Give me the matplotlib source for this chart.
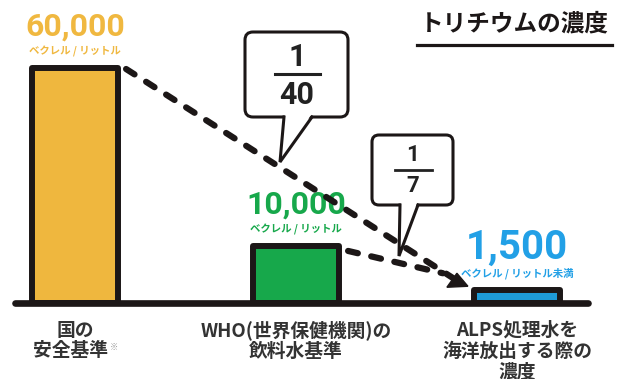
import numpy as np
import matplotlib
matplotlib.use("Agg")
import matplotlib.pyplot as plt
from matplotlib.patches import FancyBboxPatch, Polygon

# データ（ベクレル/リットル）
categories = ["国の\n安全基準※", "WHO(世界保健機関)の\n飲料水基準", "ALPS処理水を\n海洋放出する際の\n濃度"]
values = [60000, 10000, 1500]
value_labels = ["60,000", "10,000", "1,500"]
unit_labels = ["ベクレル / リットル", "ベクレル / リットル", "ベクレル / リットル未満"]
ratio_labels = [("1", "40"), ("1", "7")]
title = "トリチウムの濃度"

bar_colors = ["#EFB73E", "#17A84B", "#1E9BD7"]
text_colors = ["#F0B840", "#17A84B", "#22A0E6"]
black = "#1c1717"
jp = ["Noto Sans CJK JP", "DejaVu Sans"]
num = ["Roboto", "DejaVu Sans"]

plt.rcParams["font.family"] = jp

fig = plt.figure(figsize=(6.18, 3.79), dpi=100)
W, H = 618, 379

# 棒グラフ用の軸（縦軸はべき乗スケール）
p = 0.79
def fwd(v):
    return np.power(np.clip(v, 0, None), p)
def inv(v):
    return np.power(np.clip(v, 0, None), 1 / p)

base_px = 303
ax = fig.add_axes([15 / W, (H - base_px) / H, 573 / W, base_px / H])
ax.set_yscale("function", functions=(fwd, inv))
ax.set_xlim(-60 / 221, 513 / 221)
ymax = inv(fwd(values[0]) * base_px / 235)
ax.set_ylim(0, ymax)
ax.axis("off")

x = np.arange(len(values))
bw = 0.39
ax.bar(x, values, width=bw, color=bar_colors, edgecolor=black,
       linewidth=4.3, joinstyle="round", zorder=2)
ax.plot(ax.get_xlim(), [0, 0], color=black, lw=4.8, solid_capstyle="round",
        clip_on=False, zorder=3)

# 数値ラベル
for i in range(len(values)):
    fs = 29 if i == 2 else 23
    ax.annotate(value_labels[i], (x[i], values[i]), xytext=(0, 23), textcoords="offset points",
                ha="center", va="baseline", fontsize=fs, fontweight="bold",
                family=num, color=text_colors[i])
    ax.annotate(unit_labels[i], (x[i], values[i]), xytext=(0, 12.2), textcoords="offset points",
                ha="center", va="center", fontsize=7.5, fontweight="bold",
                color=text_colors[i])

# 注釈用のピクセル座標の軸
ov = fig.add_axes([0, 0, 1, 1], zorder=5)
ov.set_xlim(0, W)
ov.set_ylim(H, 0)
ov.axis("off")

def to_ov(pt):
    return ov.transData.inverted().transform(ax.transData.transform(pt))

# 破線
c1 = to_ov((x[0] + bw / 2, values[0]))
c2 = to_ov((x[1] + bw / 2, values[1]))
c3 = to_ov((x[2] - bw / 2, values[2]))
dash = dict(color=black, lw=4.5, dashes=(1.6, 2.2), dash_capstyle="round", zorder=1)
ov.plot([c1[0] + 8, c3[0] - 19], [c1[1] + 1, c3[1] - 11], **dash)
ov.plot([c2[0] + 9, c3[0] - 31], [c2[1] + 5, c3[1] - 17], **dash)
tip = (c3[0] - 16, c3[1] - 9)
ov.add_patch(Polygon([(tip[0] - 1, tip[1] - 8), (tip[0] - 11, tip[1] + 6), (tip[0] + 10, tip[1] + 5)],
                     closed=True, color=black, zorder=2))

# 吹き出し
def callout(x0, y0, x1, y1, tl, tr, apex, r):
    ov.add_patch(FancyBboxPatch((x0, y0), x1 - x0, y1 - y0,
                                boxstyle=f"round,pad=0,rounding_size={r}",
                                fc="white", ec=black, lw=2.2, zorder=6))
    ov.add_patch(Polygon([(tl + 1, y1 - 2), apex, (tr - 1, y1 - 2)], closed=True,
                         fc="white", ec="none", zorder=7))
    ov.plot([tl, apex[0], tr], [y1, apex[1], y1], color=black, lw=2.2,
            solid_joinstyle="miter", zorder=7)

callout(245, 32, 348, 117, 284, 312, (280, 162), 8)
ov.text(297, 57, ratio_labels[0][0], ha="center", va="center", fontsize=22,
        fontweight="bold", family=num, color="#222222", zorder=8)
ov.plot([275, 320], [74, 74], color="#222222", lw=2.2, zorder=8)
ov.text(297, 95, ratio_labels[0][1], ha="center", va="center", fontsize=22,
        fontweight="bold", family=num, color="#222222", zorder=8)

callout(372, 135, 453, 205, 400, 418, (399, 256), 7)
ov.text(413, 155, ratio_labels[1][0], ha="center", va="center", fontsize=16,
        fontweight="bold", family=num, color="#222222", zorder=8)
ov.plot([395, 432], [170, 170], color="#222222", lw=2.0, zorder=8)
ov.text(413, 186, ratio_labels[1][1], ha="center", va="center", fontsize=16,
        fontweight="bold", family=num, color="#222222", zorder=8)

# タイトル
ov.text(514, 23, title, ha="center", va="center", fontsize=17, fontweight="bold", color=black)
ov.plot([417, 612], [45, 45], color=black, lw=2.3)

# カテゴリラベル
for i, lab in enumerate(categories):
    cx = to_ov((x[i], 0))[0]
    for j, line in enumerate(lab.split("\n")):
        note = line.endswith("※")
        t = ov.text(cx - (4 if note else 0), 330 + j * 21, line.rstrip("※"),
                    ha="center", va="center", fontsize=13.5, fontweight="bold", color="#333333")
        if note:
            ov.annotate("※", xy=(1, 0.9), xycoords=t, xytext=(1, 0), textcoords="offset points",
                        ha="left", va="top", fontsize=6, color="#999999")

fig.savefig("out.png", dpi=100, facecolor="white")
